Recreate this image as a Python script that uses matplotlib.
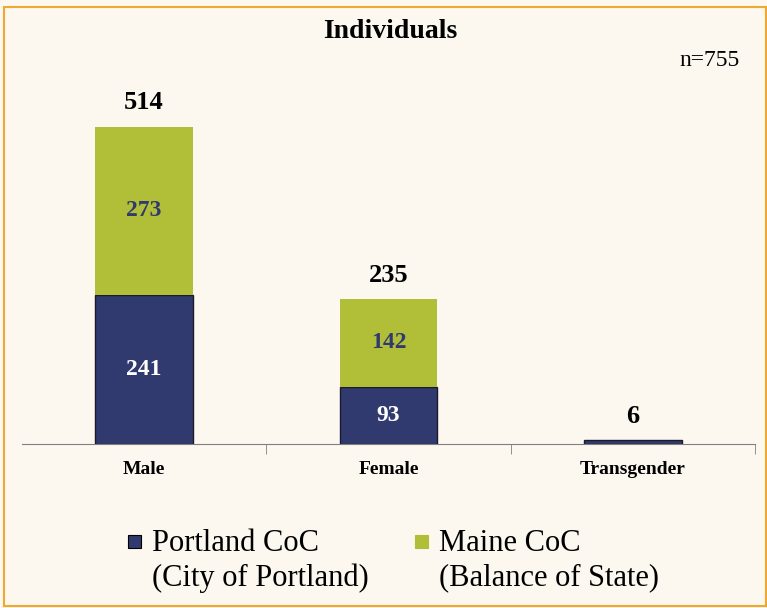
import matplotlib.pyplot as plt
import matplotlib.patches as mpatches
import numpy as np

# datos
categorias = ['Male', 'Female', 'Transgender']
portland = [241, 93, 6]
maine = [273, 142, 0]
totales = [514, 235, 6]
n_total = 755
leyenda = ['Portland CoC\n(City of Portland)', 'Maine CoC\n(Balance of State)']

azul = '#313A6E'
verde = '#B0BF37'
fondo = '#FCF8F0'

plt.rcParams['font.family'] = ['Liberation Serif', 'DejaVu Serif']

W, H = 767, 608
fig = plt.figure(figsize=(W / 100, H / 100), dpi=100, facecolor=fondo)
# borde naranja
fig.patches.append(mpatches.Rectangle((4 / W, 2 / H), 762 / W, 599 / H,
                                      transform=fig.transFigure, fill=False,
                                      edgecolor='#F0A830', linewidth=1.5))

ax = fig.add_axes([22 / W, (H - 444) / H, 733 / W, 384 / H])
ax.set_facecolor(fondo)

x = np.arange(len(categorias))
ancho = 0.4
ax.bar(x, portland, width=ancho, color=azul, edgecolor='#1a1a2a', linewidth=1)
ax.bar(x, maine, width=ancho, bottom=portland, color=verde, linewidth=0)

for i in range(len(categorias)):
    if portland[i] > 20:
        ax.text(x[i], portland[i] / 2, str(portland[i]), ha='center', va='center',
                color='white', fontsize=17, fontweight='bold')
    if maine[i] > 0:
        ax.text(x[i], portland[i] + maine[i] / 2, str(maine[i]), ha='center', va='center',
                color=azul, fontsize=17, fontweight='bold')
    ax.text(x[i], totales[i] + 20, str(totales[i]), ha='center', va='bottom',
            color='black', fontsize=19, fontweight='bold')

ax.set_xlim(-0.5, 2.5)
ax.set_ylim(0, 622)
ax.set_yticks([])
for s in ['top', 'right', 'left']:
    ax.spines[s].set_visible(False)
ax.spines['bottom'].set_color('#808080')
ax.set_xticks(x)
ax.set_xticklabels(categorias, fontsize=14, fontweight='bold')
ax.tick_params(axis='x', length=0, pad=12)
# marcas entre categorias
ax.set_xticks([0.5, 1.5, 2.5], minor=True)
ax.tick_params(axis='x', which='minor', length=7, color='#808080')

fig.text(390 / W, 1 - 31 / H, 'Individuals', ha='center', va='center',
         fontsize=20, fontweight='bold')
fig.text(740 / W, 1 - 61 / H, 'n=%d' % n_total, ha='right', va='center', fontsize=17)

# leyenda dibujada a mano para alinear el cuadro con la primera linea
colores = [azul, verde]
bordes = ['black', verde]
pos_x = [128, 415]
for k in range(2):
    fig.patches.append(mpatches.Rectangle((pos_x[k] / W, 1 - 548 / H), 13 / W, 13 / H,
                                          transform=fig.transFigure, facecolor=colores[k],
                                          edgecolor=bordes[k], linewidth=0.8))
    fig.text((pos_x[k] + 24) / W, 1 - 529 / H, leyenda[k], ha='left', va='top',
             fontsize=22, linespacing=1.25)

plt.savefig('out.png', dpi=100, facecolor=fondo)
